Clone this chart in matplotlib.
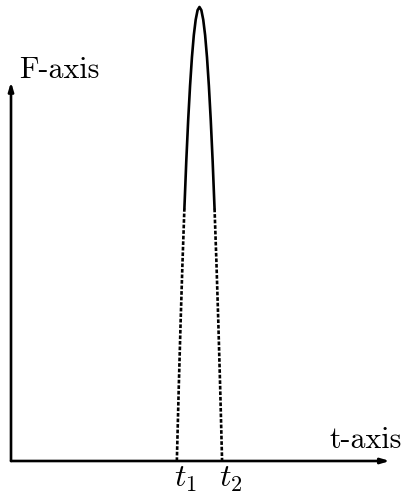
import matplotlib
matplotlib.use("Agg")
import matplotlib.pyplot as plt
import numpy as np

plt.rcParams['mathtext.fontset'] = 'cm'

# Curve samples (t in axis units, F normalised to peak = 1)
t_vals = [4.40, 4.45, 4.50, 4.55, 4.60, 4.65, 4.70, 4.75, 4.80, 4.85, 4.90, 4.95, 5.00,
          5.05, 5.10, 5.15, 5.20, 5.25, 5.30, 5.35, 5.40, 5.45, 5.50, 5.55, 5.60]
F_vals = [0.000, 0.160, 0.306, 0.438, 0.556, 0.660, 0.750, 0.826, 0.889, 0.938, 0.972, 0.993, 1.000,
          0.993, 0.972, 0.938, 0.889, 0.826, 0.750, 0.660, 0.556, 0.438, 0.306, 0.160, 0.000]
t_marks = [4.40, 5.60]
t_mark_labels = [r'$t_1$', r'$t_2$']
x_label = 't-axis'
y_label = 'F-axis'

fig = plt.figure(figsize=(4.03, 4.94), dpi=100)
ax = fig.add_axes([0, 0, 1, 1])
ax.set_xlim(-0.292, 10.40)
ax.set_ylim(-0.0727, 1.0154)
ax.axis('off')

t = np.array(t_vals)
F = np.array(F_vals)

# dotted lower parts, solid upper part
split = 0.556
upper = F >= split
ax.plot(t[upper], F[upper], color='black', lw=1.9, solid_capstyle='round')
left = t <= 5.0
ax.plot(t[left & (F <= split)], F[left & (F <= split)], color='black', lw=1.9, ls=(0, (1.4, 0.7)))
right = t >= 5.0
ax.plot(t[right & (F <= split)], F[right & (F <= split)], color='black', lw=1.9, ls=(0, (1.4, 0.7)))

# axes arrows
arrow_kw = dict(arrowstyle='-|>,head_length=0.5,head_width=0.15', color='black', lw=1.9,
                shrinkA=0, shrinkB=0)
ax.annotate('', xy=(10.05, 0), xytext=(0, 0), arrowprops=arrow_kw)
ax.annotate('', xy=(0, (461 - 82) / 454), xytext=(0, 0), arrowprops=arrow_kw)

# labels
ax.text(0.22, (461 - 78) / 454, y_label, fontfamily='cmr10', fontsize=21.5,
        ha='left', va='baseline')
ax.text(10.38, (461 - 448) / 454, x_label, fontfamily='cmr10', fontsize=21.5,
        ha='right', va='baseline')
for tm, lab in zip(t_marks, t_mark_labels):
    ax.text(tm - 0.08, (461 - 487) / 454, lab, fontsize=23, ha='left', va='baseline')

fig.savefig('out.png', dpi=100)
